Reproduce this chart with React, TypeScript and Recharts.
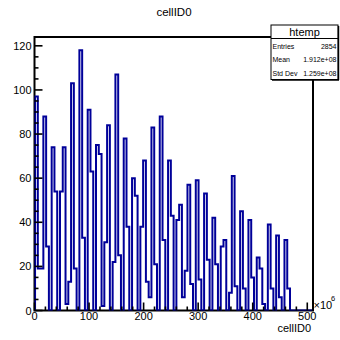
import { ComposedChart, Line, XAxis, YAxis, ReferenceArea } from "recharts";

// counts per bin (100 bins)
const binCounts = [
  97, 19, 19, 88, 29, 0, 74, 54, 0, 54,
  74, 3, 13, 103, 19, 0, 118, 33, 0, 91,
  63, 0, 75, 71, 2, 31, 84, 0, 22, 107,
  25, 0, 78, 38, 0, 60, 52, 0, 38, 68,
  13, 6, 83, 21, 0, 88, 32, 0, 68, 43,
  0, 41, 48, 6, 18, 57, 12, 0, 59, 14,
  0, 53, 23, 0, 42, 21, 0, 29, 32, 0,
  8, 61, 11, 0, 45, 10, 0, 41, 15, 0,
  24, 19, 3, 0, 39, 10, 0, 34, 6, 0,
  32, 10, 0, 0, 0, 0, 0, 0, 0, 0,
];
const binStart = 1; // x1e6
const binWidth = 5.08;

const xMajor = [0, 100, 200, 300, 400, 500];
const yMajor = [0, 20, 40, 60, 80, 100, 120];
const statLabels = ["Entries", "Mean", "Std Dev"];
const statValues = ["2854", "1.912e+08", "1.259e+08"];

const X_MAX = 510.5;
const Y_MAX = 124;
const FONT = "'Liberation Sans', Arial, Helvetica, sans-serif";

const xTicks: number[] = [];
for (let v = 0; v <= 500; v += 20) xTicks.push(v);
const yTicks: number[] = [];
for (let v = 0; v <= 120; v += 5) yTicks.push(v);

const histData = [
  { x: binStart, n: 0 },
  ...binCounts.map((n, i) => ({ x: binStart + i * binWidth, n })),
  { x: binStart + binCounts.length * binWidth, n: 0 },
];

function XTick(props: any) {
  const { x, y, payload } = props;
  const major = xMajor.includes(payload.value);
  return (
    <g>
      <line x1={x} x2={x} y1={y} y2={y - (major ? 8 : 4)} stroke="#000" strokeWidth={1.6} />
      {major && (
        <text x={x} y={y + 9} textAnchor="middle" fontSize={11} fontFamily={FONT} fill="#000">
          {payload.value}
        </text>
      )}
    </g>
  );
}

function YTick(props: any) {
  const { x, y, payload } = props;
  const major = yMajor.includes(payload.value);
  return (
    <g>
      <line x1={x} x2={x + (major ? 8 : 4)} y1={y} y2={y} stroke="#000" strokeWidth={1.6} />
      {major && (
        <text x={x - 3} y={y + 4} textAnchor="end" fontSize={11} fontFamily={FONT} fill="#000">
          {payload.value}
        </text>
      )}
    </g>
  );
}

export default function App() {
  return (
    <div
      style={{
        position: "absolute",
        left: 0,
        top: 0,
        width: 340,
        height: 340,
        background: "#fff",
        fontFamily: FONT,
      }}
    >
      <ComposedChart
        width={340}
        height={340}
        data={histData}
        margin={{ top: 37, right: 27, left: 0, bottom: 0 }}
      >
        <XAxis
          type="number"
          dataKey="x"
          domain={[0, X_MAX]}
          ticks={xTicks}
          interval={0}
          tickSize={0}
          tickMargin={0}
          tickLine={false}
          axisLine={false}
          height={29.5}
          tick={(p: any) => <XTick {...p} />}
          allowDataOverflow
        />
        <YAxis
          type="number"
          domain={[0, Y_MAX]}
          ticks={yTicks}
          interval={0}
          tickSize={0}
          tickMargin={0}
          tickLine={false}
          axisLine={false}
          width={34.5}
          tick={(p: any) => <YTick {...p} />}
          allowDataOverflow
        />
        <Line
          type="stepAfter"
          dataKey="n"
          stroke="#000099"
          strokeWidth={2}
          dot={false}
          activeDot={false}
          isAnimationActive={false}
        />
        <ReferenceArea
          x1={0}
          x2={X_MAX}
          y1={0}
          y2={Y_MAX}
          fill="none"
          fillOpacity={0}
          stroke="#000"
          strokeWidth={2}
        />
      </ComposedChart>
      <svg
        width={340}
        height={340}
        style={{ position: "absolute", left: 0, top: 0, pointerEvents: "none" }}
      >
        <text x={174} y={16} textAnchor="middle" fontSize={11.5} fontFamily={FONT}>
          cellID0
        </text>
        <text x={311} y={332} textAnchor="end" fontSize={11} fontFamily={FONT}>
          cellID0
        </text>
        <text x={313.5} y={309} fontSize={11} fontFamily={FONT}>
          ×10
        </text>
        <text x={331} y={301} fontSize={7.5} fontFamily={FONT}>
          6
        </text>
        <rect x={271} y={25} width={67} height={54.5} fill="#fff" stroke="#000" strokeWidth={1} />
        <line x1={272} x2={339} y1={80} y2={80} stroke="#000" strokeWidth={1.5} />
        <line x1={338.5} x2={338.5} y1={26} y2={80} stroke="#000" strokeWidth={1.5} />
        <line x1={271} x2={338} y1={38.5} y2={38.5} stroke="#000" strokeWidth={1} />
        <text x={304.5} y={35.5} textAnchor="middle" fontSize={11} fontFamily={FONT}>
          htemp
        </text>
        {statLabels.map((label, i) => (
          <g key={label}>
            <text x={272.5} y={49 + i * 13.3} fontSize={7} fontFamily={FONT}>
              {label}
            </text>
            <text x={336.5} y={49 + i * 13.3} textAnchor="end" fontSize={7} fontFamily={FONT}>
              {statValues[i]}
            </text>
          </g>
        ))}
      </svg>
    </div>
  );
}
